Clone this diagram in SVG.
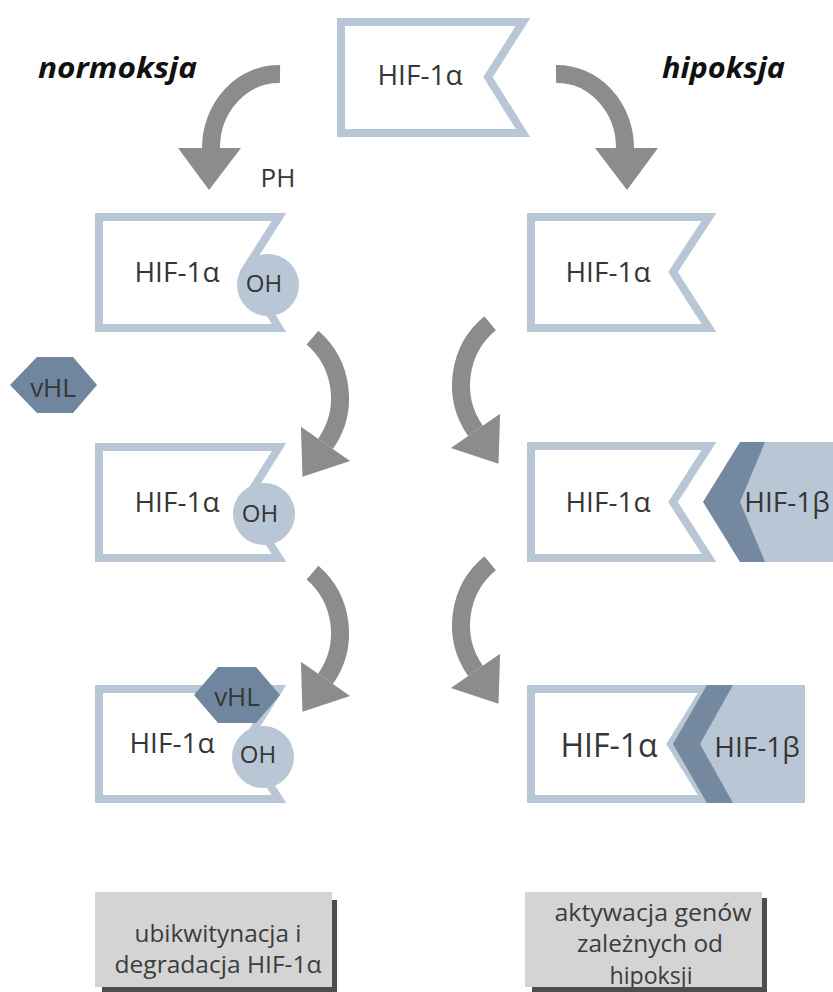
<svg xmlns="http://www.w3.org/2000/svg" width="833" height="992" viewBox="0 0 833 992">
<style>
.flag{fill:#ffffff;stroke:#b8c6d5;stroke-width:8;stroke-linejoin:miter;stroke-miterlimit:10}
.oh{fill:#b8c6d5}
.hex{fill:#6f869e}
.dark{fill:#74899f}
.light{fill:#b8c6d5}
.t{font-family:"Open Sans","Noto Sans",sans-serif;fill:#363636;text-anchor:middle}
.lbl{font-family:"Open Sans","Noto Sans",sans-serif;font-weight:bold;font-style:italic;fill:#111111}
.box{fill:#d4d4d4}
.sh{fill:#4d4d4d}
.bt{font-family:"Open Sans","Noto Sans",sans-serif;fill:#3c3c3c;text-anchor:middle;font-size:24px}
.shaft{fill:none;stroke:#8c8c8c;stroke-width:18}
.head{fill:#8c8c8c}
</style>
<rect width="833" height="992" fill="#ffffff"/>

<text class="lbl" x="38" y="78" font-size="28" textLength="159" lengthAdjust="spacingAndGlyphs">normoksja</text>
<text class="lbl" x="662" y="78" font-size="28" textLength="123" lengthAdjust="spacingAndGlyphs">hipoksja</text>

<g id="connectors">
  <path class="shaft" d="M280,74 A68,74 0 0 0 211,148"/>
  <polygon class="head" points="178,148 241,148 209,190"/>
  <path class="shaft" d="M556,74 A68,74 0 0 1 625,148"/>
  <polygon class="head" points="595,148 658,148 627,190"/>
  <path class="shaft" d="M312.5,337.6 A80,80 0 0 1 325.5,443.9"/>
  <polygon class="head" points="300.9,426.7 350.1,461.1 302.5,476.7"/>
  <path class="shaft" d="M312.5,572.6 A80,80 0 0 1 325.5,678.9"/>
  <polygon class="head" points="300.9,661.7 350.1,696.1 302.5,711.7"/>
  <path class="shaft" d="M490.1,323.3 A80,80 0 0 0 475.5,430.9"/>
  <polygon class="head" points="500.1,413.7 450.9,448.1 498.5,463.7"/>
  <path class="shaft" d="M490.1,563.3 A80,80 0 0 0 475.5,670.9"/>
  <polygon class="head" points="500.1,653.7 450.9,688.1 498.5,703.7"/>
</g>

<g id="ph"><text class="t" x="278" y="187" font-size="26">PH</text></g>

<g id="top">
  <polygon class="flag" points="341,22 523,22 488,77 523,133 341,133"/>
  <text class="t" x="420" y="85" font-size="28">HIF-1α</text>
</g>

<g id="left2">
  <polygon class="flag" points="99,217 279,217 244,272 279,328 99,328"/>
  <circle class="oh" cx="268" cy="285" r="31"/>
  <text class="t" x="177" y="282" font-size="28">HIF-1α</text>
  <text class="t" x="264" y="292" font-size="24">OH</text>
</g>

<g id="right2">
  <polygon class="flag" points="531,217 709,217 673,272 709,328 531,328"/>
  <text class="t" x="608" y="282" font-size="28">HIF-1α</text>
</g>

<g id="vhl1">
  <polygon class="hex" points="10,385 37,357 73,357 97,385 73,413 37,413"/>
  <text class="t" x="53" y="397" font-size="26" fill="#2b3540">vHL</text>
</g>

<g id="left3">
  <polygon class="flag" points="99,447 279,447 244,503 279,558 99,558"/>
  <circle class="oh" cx="264" cy="514" r="31"/>
  <text class="t" x="177" y="512" font-size="28">HIF-1α</text>
  <text class="t" x="260" y="522" font-size="24">OH</text>
</g>

<g id="right3">
  <polygon class="flag" points="531,446 709,446 673,502 709,558 531,558"/>
  <polygon class="dark" points="740,442 833,442 833,562 740,562 703,502"/>
  <polygon class="light" points="765,442 833,442 833,562 765,562 740,502"/>
  <text class="t" x="608" y="512" font-size="28">HIF-1α</text>
  <text class="t" x="787" y="512" font-size="28">HIF-1β</text>
</g>

<g id="left4">
  <polygon class="flag" points="99,689 279,689 244,745 279,799 99,799"/>
  <circle class="oh" cx="263" cy="757" r="31"/>
  <polygon class="hex" points="194,695 218,667 256,667 280,695 256,723 218,723"/>
  <text class="t" x="237" y="706" font-size="26" fill="#2b3540">vHL</text>
  <text class="t" x="172" y="753" font-size="28">HIF-1α</text>
  <text class="t" x="258" y="763" font-size="24">OH</text>
</g>

<g id="right4">
  <polygon class="flag" points="531,689 705,689 671,744 705,799 531,799"/>
  <polygon class="dark" points="707,685 805,685 805,803 707,803 673,744"/>
  <polygon class="light" points="733,685 805,685 805,803 733,803 700,744"/>
  <text class="t" x="609" y="757" font-size="32">HIF-1α</text>
  <text class="t" x="757" y="757" font-size="28">HIF-1β</text>
</g>

<g id="out-left">
  <rect class="box" x="95" y="892" width="237" height="95"/>
  <text class="bt" x="218" y="942" textLength="167" lengthAdjust="spacingAndGlyphs">ubikwitynacja i</text>
  <text class="bt" x="218" y="973" textLength="207" lengthAdjust="spacingAndGlyphs">degradacja HIF-1α</text>
  <rect class="sh" x="332" y="900" width="5" height="92"/>
  <rect class="sh" x="102" y="987" width="235" height="5"/>
</g>

<g id="out-right">
  <rect class="box" x="525" y="892" width="237" height="95"/>
  <text class="bt" x="653" y="921" textLength="197" lengthAdjust="spacingAndGlyphs">aktywacja genów</text>
  <text class="bt" x="650" y="952" textLength="146" lengthAdjust="spacingAndGlyphs">zależnych od</text>
  <text class="bt" x="651" y="984" textLength="83" lengthAdjust="spacingAndGlyphs">hipoksji</text>
  <rect class="sh" x="762" y="898" width="5" height="94"/>
  <rect class="sh" x="532" y="987" width="235" height="5"/>
</g>
</svg>
